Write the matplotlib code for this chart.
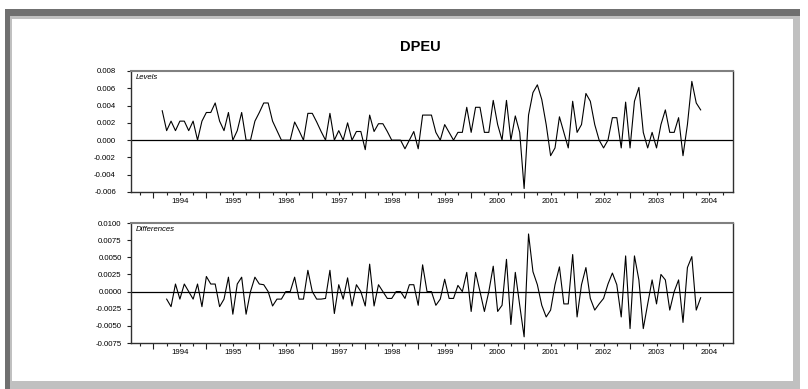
import numpy as np
import matplotlib
matplotlib.use('Agg')
import matplotlib.pyplot as plt
from matplotlib.patches import Rectangle
import matplotlib.transforms as mtransforms

plt.rcParams['font.family'] = ['Liberation Sans', 'DejaVu Sans']
plt.rcParams['axes.unicode_minus'] = False

title = "DPEU"
panel_names = ["Levels", "Differences"]
year_labels = [str(y) for y in range(1994, 2005)]
levels_start = (1994, 3)
diff_start = (1994, 4)

levels = [
    0.0034, 0.0011, 0.0022, 0.0011, 0.0022, 0.0022, 0.0011, 0.0022, 0.0000, 0.0022,
    0.0032, 0.0032, 0.0043, 0.0022, 0.0011, 0.0032, 0.0000, 0.0011, 0.0032, 0.0000,
    0.0000, 0.0022, 0.0032, 0.0043, 0.0043, 0.0022, 0.0011, 0.0000, 0.0000, 0.0000,
    0.0021, 0.0011, 0.0000, 0.0031, 0.0031, 0.0021, 0.0010, 0.0000, 0.0031, 0.0000,
    0.0011, 0.0000, 0.0020, 0.0000, 0.0010, 0.0010, -0.0011, 0.0029, 0.0010, 0.0019,
    0.0019, 0.0010, 0.0000, 0.0000, 0.0000, -0.0010, 0.0000, 0.0010, -0.0010, 0.0029,
    0.0029, 0.0029, 0.0009, 0.0000, 0.0018, 0.0009, 0.0000, 0.0009, 0.0009, 0.0038,
    0.0009, 0.0038, 0.0038, 0.0009, 0.0009, 0.0046, 0.0018, 0.0000, 0.0046, 0.0000,
    0.0028, 0.0009, -0.0056, 0.0029, 0.0055, 0.0064, 0.0047, 0.0018, -0.0018, -0.0009,
    0.0027, 0.0009, -0.0009, 0.0045, 0.0009, 0.0018, 0.0054, 0.0045, 0.0018, 0.0000,
    -0.0009, 0.0000, 0.0026, 0.0026, -0.0009, 0.0044, -0.0009, 0.0045, 0.0061, 0.0009,
    -0.0009, 0.0009, -0.0009, 0.0018, 0.0035, 0.0009, 0.0009, 0.0026, -0.0018, 0.0018,
    0.0068, 0.0043, 0.0035,
]

differences = [
    -0.0011, -0.0022, 0.0011, -0.0011, 0.0011, 0.0000, -0.0011, 0.0011, -0.0022, 0.0022,
    0.0011, 0.0011, -0.0022, -0.0011, 0.0021, -0.0033, 0.0011, 0.0021, -0.0033, 0.0000,
    0.0021, 0.0011, 0.0010, 0.0000, -0.0021, -0.0011, -0.0011, 0.0000, 0.0000, 0.0021,
    -0.0011, -0.0011, 0.0031, 0.0000, -0.0011, -0.0011, -0.0010, 0.0031, -0.0032, 0.0010,
    -0.0011, 0.0020, -0.0021, 0.0010, 0.0000, -0.0021, 0.0040, -0.0021, 0.0010, 0.0000,
    -0.0010, -0.0010, 0.0000, 0.0000, -0.0010, 0.0010, 0.0010, -0.0020, 0.0039, 0.0000,
    0.0000, -0.0020, -0.0011, 0.0018, -0.0010, -0.0010, 0.0009, 0.0000, 0.0028, -0.0029,
    0.0028, 0.0000, -0.0029, 0.0000, 0.0037, -0.0029, -0.0020, 0.0047, -0.0048, 0.0028,
    -0.0020, -0.0066, 0.0084, 0.0029, 0.0010, -0.0020, -0.0037, -0.0027, 0.0010, 0.0036,
    -0.0018, -0.0018, 0.0054, -0.0037, 0.0010, 0.0035, -0.0010, -0.0027, -0.0018, -0.0010,
    0.0011, 0.0027, 0.0010, -0.0037, 0.0052, -0.0054, 0.0052, 0.0017, -0.0054, -0.0018,
    0.0017, -0.0018, 0.0025, 0.0017, -0.0027, 0.0000, 0.0017, -0.0045, 0.0035, 0.0051,
    -0.0027, -0.0009,
]

top_ticks = [-0.006, -0.004, -0.002, 0.0, 0.002, 0.004, 0.006, 0.008]
bot_ticks = [-0.0075, -0.005, -0.0025, 0.0, 0.0025, 0.005, 0.0075, 0.01]


def month_axis(start, n):
    y, m = start
    return y + (m - 1 + np.arange(n)) / 12.0


W, H = 808, 389
fig = plt.figure(figsize=(W / 100, H / 100), dpi=100)
fig.patch.set_facecolor('white')


def rect(x0, y0, x1, y1, color):
    fig.patches.append(Rectangle((x0 / W, 1 - y1 / H), (x1 - x0) / W, (y1 - y0) / H,
                                 transform=fig.transFigure, color=color, zorder=0, lw=0))


rect(5, 381, 800, 389, '#c0c0c0')
rect(793, 9, 800, 389, '#c0c0c0')
rect(5, 9, 800, 16, '#707070')
rect(5, 9, 10, 389, '#707070')
rect(10, 16, 793, 19, '#c0c0c0')
rect(10, 16, 12, 381, '#c0c0c0')

fig.text(420 / W, 1 - 47 / H, title, ha='center', va='center', fontsize=10.5,
         fontweight='bold')

xlim = (1993.577, 2004.944)
axes_specs = [
    ([131 / W, 1 - 192 / H, 602 / W, 121 / H], levels, levels_start, (-0.006, 0.008),
     top_ticks, '%.3f', 7.7),
    ([131 / W, 1 - 343 / H, 602 / W, 120 / H], differences, diff_start, (-0.0075, 0.01),
     bot_ticks, '%.4f', 3.6),
]

for (pos, series, start, ylim, yt, fmt, ypad), name in zip(axes_specs, panel_names):
    ax = fig.add_axes(pos)
    ax.set_facecolor('white')
    t = month_axis(start, len(series))
    ax.plot(t, series, color='black', lw=0.8, zorder=3)
    ax.axhline(0, color='black', lw=0.9, zorder=2)
    ax.set_xlim(*xlim)
    ax.set_ylim(*ylim)
    ax.set_yticks(yt)
    ax.set_yticklabels([fmt % v for v in yt])
    ax.set_xticks(range(1994, 2005))
    ax.set_xticklabels([])
    ax.set_xticks(np.arange(1993.75, 2004.95, 0.25), minor=True)
    ax.tick_params(axis='x', which='major', direction='out', length=4.3, width=0.8, color='#202020')
    ax.tick_params(axis='x', which='minor', direction='out', length=2.0, width=0.8, color='#202020')
    ax.tick_params(axis='y', direction='out', length=3.1, width=0.8, labelsize=5.6, pad=ypad,
                   color='#202020')
    for s in ['left', 'bottom', 'right']:
        ax.spines[s].set_color('#303030')
        ax.spines[s].set_linewidth(1.0)
    ax.spines['top'].set_color('#808080')
    ax.spines['top'].set_linewidth(1.5)
    trans = mtransforms.blended_transform_factory(ax.transData, ax.transAxes)
    for y, lab in zip(range(1994, 2005), year_labels):
        ax.text(y + 0.5, -9.7 / (pos[3] * H), lab, transform=trans, ha='center', va='center',
                fontsize=5.6)
    ax.text(0.008, 0.975, name, transform=ax.transAxes, ha='left', va='top',
            fontsize=5.6, style='italic')

fig.savefig('out.png', dpi=100)
